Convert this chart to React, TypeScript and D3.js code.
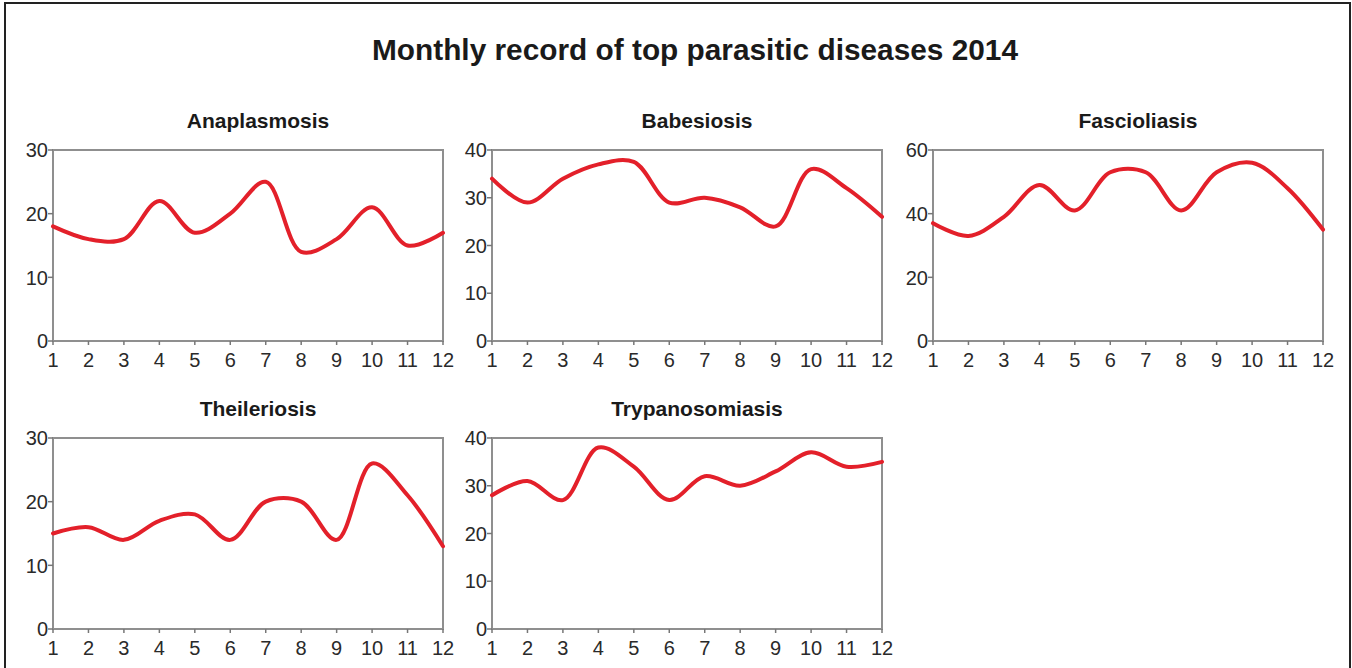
import React from "react";
import * as d3 from "d3";

const months = [1, 2, 3, 4, 5, 6, 7, 8, 9, 10, 11, 12];
const anaplasmosis = [18, 16, 16, 22, 17, 20, 25, 14, 16, 21, 15, 17];
const babesiosis = [34, 29, 34, 37, 37.5, 29, 30, 28, 24, 36, 32, 26];
const fascioliasis = [37, 33, 39, 49, 41, 53, 53, 41, 53, 56, 48, 35];
const theileriosis = [15, 16, 14, 17, 18, 14, 20, 20, 14, 26, 21, 13];
const trypanosomiasis = [28, 31, 27, 38, 34, 27, 32, 30, 33, 37, 34, 35];

const titleText = "Monthly record of top parasitic diseases 2014";

const panels = [
  { name: "Anaplasmosis", values: anaplasmosis, yMax: 30, yTicks: [0, 10, 20, 30], left: 53, top: 150 },
  { name: "Babesiosis", values: babesiosis, yMax: 40, yTicks: [0, 10, 20, 30, 40], left: 492, top: 150 },
  { name: "Fascioliasis", values: fascioliasis, yMax: 60, yTicks: [0, 20, 40, 60], left: 933, top: 150 },
  { name: "Theileriosis", values: theileriosis, yMax: 30, yTicks: [0, 10, 20, 30], left: 53, top: 438 },
  { name: "Trypanosomiasis", values: trypanosomiasis, yMax: 40, yTicks: [0, 10, 20, 30, 40], left: 492, top: 438 },
];

const PW = 390;
const PH = 191;
const FONT = "'Liberation Sans', Arial, sans-serif";

function Panel({ p }: { p: any }) {
  const x = d3.scaleLinear().domain([1, 12]).range([p.left, p.left + PW]);
  const y = d3.scaleLinear().domain([0, p.yMax]).range([p.top + PH, p.top]);
  const line = d3
    .line<number>()
    .x((_, i) => x(months[i]))
    .y((d) => y(d))
    .curve(d3.curveCatmullRom.alpha(0.5));
  const bottom = p.top + PH;
  return (
    <g>
      <text
        x={p.left + PW / 2 + 10}
        y={p.top - 22}
        textAnchor="middle"
        fontFamily={FONT}
        fontWeight="bold"
        fontSize={21}
        fill="#1a1a1a"
      >
        {p.name}
      </text>
      <rect x={p.left} y={p.top} width={PW} height={PH} fill="white" stroke="#8f8f8f" strokeWidth={2} />
      {p.yTicks.map((t: number) => (
        <g key={"y" + t}>
          <line x1={p.left - 5} x2={p.left} y1={y(t)} y2={y(t)} stroke="#777" strokeWidth={1.5} />
          <text
            x={p.left - 5}
            y={y(t)}
            dy="0.36em"
            textAnchor="end"
            fontFamily={FONT}
            fontSize={20}
            fill="#2a2a2a"
          >
            {t}
          </text>
        </g>
      ))}
      {months.map((m) => (
        <g key={"x" + m}>
          <line x1={x(m)} x2={x(m)} y1={bottom} y2={bottom + 4} stroke="#777" strokeWidth={1.5} />
          <text
            x={x(m)}
            y={bottom + 26}
            textAnchor="middle"
            fontFamily={FONT}
            fontSize={20}
            fill="#2a2a2a"
          >
            {m}
          </text>
        </g>
      ))}
      <path d={line(p.values) || ""} fill="none" stroke="#e3202a" strokeWidth={4} strokeLinejoin="round" strokeLinecap="round" />
    </g>
  );
}

export default function App() {
  return (
    <svg
      width={1352}
      height={668}
      style={{ position: "absolute", left: 0, top: 0, background: "white" }}
    >
      <rect x={5} y={3} width={1345} height={700} fill="white" stroke="#222" strokeWidth={2} />
      <text
        x={695}
        y={60}
        textAnchor="middle"
        fontFamily={FONT}
        fontWeight="bold"
        fontSize={30}
        fill="#1a1a1a"
        textLength={646}
        lengthAdjust="spacingAndGlyphs"
      >
        {titleText}
      </text>
      {panels.map((p) => (
        <Panel key={p.name} p={p} />
      ))}
    </svg>
  );
}
